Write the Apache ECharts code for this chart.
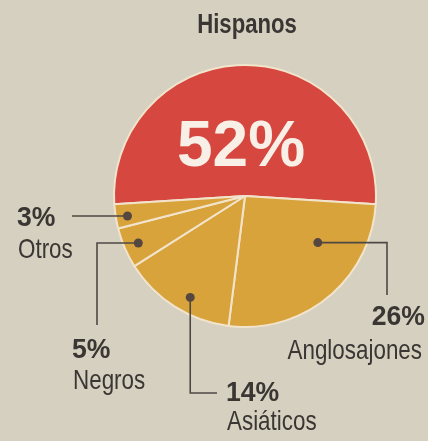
<!DOCTYPE html>
<html>
<head>
<meta charset="utf-8">
<script src="https://cdn.jsdelivr.net/npm/echarts@6/dist/echarts.min.js"></script>
<style>
  html, body { margin: 0; padding: 0; background: #d6d0c0; }
  #chart { width: 428px; height: 441px; }
</style>
</head>
<body>
<div id="chart"></div>
<script>
// Population shares by group (percent)
const categories = ['Hispanos', 'Anglosajones', 'Asiáticos', 'Negros', 'Otros'];
const shares = [52, 26, 14, 5, 3];
const title = 'Hispanos';

// Layout of the pie
const CX = 245, CY = 196, R = 131;
const START = 183.6; // degrees, counter-clockwise from east (echarts convention)

const RED = '#d5473f';
const GOLD = '#d9a33c';
const INK = '#3a3633';
const FONT = '"Liberation Sans", Arial, sans-serif';
const CONDENSE = 0.8; // horizontal squeeze for the condensed headline type

// Callout styling per slice: where the dot sits inside its slice (t = fraction of sweep,
// rf = fraction of radius), how the leader line runs, and where the label block goes.
const callouts = {
  'Anglosajones': { t: 0.31, rf: 0.66, route: 'hv', x: 387, y: 295, lx: 425, py: 317, ny: 351, align: 'right' },
  'Asiáticos':    { t: 0.42, rf: 0.88, route: 'vh', x: 217, y: 393, lx: 226, py: 393, ny: 422, align: 'left' },
  'Negros':       { t: 0.48, rf: 0.89, route: 'hv', x: 97,  y: 325, lx: 72,  py: 350, ny: 381, align: 'left' },
  'Otros':        { t: 0.44, rf: 0.91, route: 'h',  x: 72,  y: null, lx: 17, py: 218, ny: 250, align: 'left' }
};

const total = shares.reduce((a, b) => a + b, 0);

// Point at a given screen angle (clockwise from east, y down)
function polar(deg, r) {
  const a = deg * Math.PI / 180;
  return [CX + r * Math.cos(a), CY + r * Math.sin(a)];
}

// Text squeezed horizontally around its anchor point
function squeezedText(x, y, text, font, align, squeeze) {
  return {
    type: 'text', z: 12, x: x, y: y,
    scaleX: squeeze, originX: 0, originY: 0,
    style: { text: text, fill: INK, align: align, verticalAlign: 'middle', font: font }
  };
}

const graphics = [];
let acc = -START; // screen angle where the first slice begins
categories.forEach((name, i) => {
  const sweep = shares[i] / total * 360;
  const c = callouts[name];
  if (c) {
    const [dx, dy] = polar(acc + c.t * sweep, c.rf * R);
    let pts;
    if (c.route === 'h') pts = [[dx, dy], [c.x, dy]];
    else if (c.route === 'hv') pts = [[dx, dy], [c.x, dy], [c.x, c.y]];
    else pts = [[dx, dy], [dx, c.y], [c.x, c.y]];
    graphics.push({
      type: 'polyline', z: 10,
      shape: { points: pts },
      style: { stroke: '#4e4844', lineWidth: 1.6, fill: null }
    });
    graphics.push({
      type: 'circle', z: 11,
      shape: { cx: dx, cy: dy, r: 4.5 },
      style: { fill: '#55473f' }
    });
    graphics.push(squeezedText(c.lx, c.py, shares[i] + '%', 'bold 28px ' + FONT, c.align, 0.95));
    graphics.push(squeezedText(c.lx + (c.align === 'left' ? 1 : -3), c.ny, name, '28px ' + FONT, c.align, CONDENSE));
  }
  acc += sweep;
});

graphics.push(squeezedText(247, 26, title, 'bold 27px ' + FONT, 'center', 0.82));

const chart = echarts.init(document.getElementById('chart'), null, { renderer: 'canvas' });
chart.setOption({
  backgroundColor: '#d6d0c0',
  animation: false,
  series: [{
    type: 'pie',
    center: [CX, CY],
    radius: R,
    startAngle: START,
    clockwise: true,
    silent: true,
    label: { show: false },
    labelLine: { show: false },
    itemStyle: { borderColor: '#f2e4cc', borderWidth: 2 },
    data: categories.map((name, i) => ({
      name,
      value: shares[i],
      itemStyle: { color: i === 0 ? RED : GOLD },
      label: i === 0 ? {
        show: true,
        position: 'inside',
        formatter: '{c}%',
        offset: [-4, 21],
        color: '#f8efe6',
        fontFamily: FONT,
        fontWeight: 'bold',
        fontSize: 64
      } : { show: false }
    }))
  }],
  graphic: graphics
});
</script>
</body>
</html>
